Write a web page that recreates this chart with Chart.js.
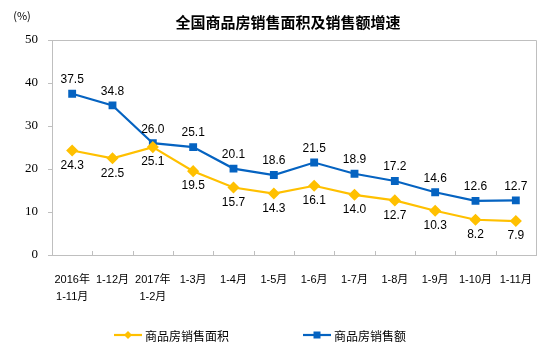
<!DOCTYPE html>
<html><head><meta charset="utf-8">
<script src="https://cdn.jsdelivr.net/npm/chart.js@4/dist/chart.umd.min.js"></script>
<style>html,body{margin:0;padding:0;background:#fff}#wrap{width:544px;height:351px;position:relative}</style>
</head><body><div id="wrap"><canvas id="c" width="544" height="351"></canvas></div>
<script>
const categories = [["2016年","1-11月"],"1-12月",["2017年","1-2月"],"1-3月","1-4月","1-5月","1-6月","1-7月","1-8月","1-9月","1-10月","1-11月"];
const areaGrowth = [24.3,22.5,25.1,19.5,15.7,14.3,16.1,14.0,12.7,10.3,8.2,7.9];
const salesGrowth = [37.5,34.8,26.0,25.1,20.1,18.6,21.5,18.9,17.2,14.6,12.6,12.7];
const yTicks = [0,10,20,30,40,50];
const seriesNames = ["商品房销售面积","商品房销售额"];
const titleText = "全国商品房销售面积及销售额增速";
const unitText = "(%)";

const FONT = '"Liberation Sans", Arial, "Noto Sans CJK SC", sans-serif';
const SERIF = '"Liberation Serif", "Times New Roman", serif';
const CJK = '"Noto Sans CJK SC", "Liberation Sans", sans-serif';
const YELLOW = '#FFC000';
const BLUE = '#0563C1';
const GRAY = '#BFBFBF';

const deco = {
  id: 'deco',
  afterDraw(chart) {
    const ctx = chart.ctx, a = chart.chartArea;
    ctx.save();
    ctx.strokeStyle = GRAY; ctx.lineWidth = 1;
    ctx.beginPath();
    ctx.moveTo(a.left, a.top + 0.5); ctx.lineTo(a.right + 0.5, a.top + 0.5); ctx.lineTo(a.right + 0.5, a.bottom);
    ctx.stroke();
    const xs = chart.scales.x;
    ctx.beginPath();
    for (let i = 1; i < categories.length; i++) {
      const px = Math.round((xs.getPixelForValue(i - 1) + xs.getPixelForValue(i)) / 2) + 0.5;
      ctx.moveTo(px, a.bottom); ctx.lineTo(px, a.bottom - 4);
    }
    ctx.stroke();
    ctx.fillStyle = '#000';
    ctx.font = '12px ' + FONT;
    ctx.textAlign = 'center'; ctx.textBaseline = 'middle';
    chart.data.datasets.forEach((ds, di) => {
      const meta = chart.getDatasetMeta(di);
      meta.data.forEach((pt, i) => {
        const dy = di === 1 ? -14 : 15;
        ctx.fillText(ds.data[i].toFixed(1), pt.x, pt.y + dy);
      });
    });
    ctx.font = 'bold 15px ' + CJK;
    ctx.fillText(titleText, 288, 22);
    ctx.font = '11px ' + CJK;
    ctx.fillText(unitText, 22, 16);
    const items = [{x:114, c:YELLOW, s:'diamond', t:seriesNames[0]}, {x:303, c:BLUE, s:'square', t:seriesNames[1]}];
    const ly = 335;
    items.forEach(it => {
      ctx.strokeStyle = it.c; ctx.lineWidth = 2.2; ctx.fillStyle = it.c;
      ctx.beginPath(); ctx.moveTo(it.x, ly); ctx.lineTo(it.x + 28, ly); ctx.stroke();
      const cx = it.x + 14;
      ctx.beginPath();
      if (it.s === 'diamond') { ctx.moveTo(cx, ly - 4); ctx.lineTo(cx + 4, ly); ctx.lineTo(cx, ly + 4); ctx.lineTo(cx - 4, ly); }
      else { ctx.rect(cx - 3.5, ly - 3.5, 7, 7); }
      ctx.fill();
      ctx.fillStyle = '#000'; ctx.font = '12px ' + CJK; ctx.textAlign = 'left';
      ctx.fillText(it.t, it.x + 31, ly + 1);
    });
    ctx.restore();
  }
};

new Chart(document.getElementById('c'), {
  type: 'line',
  data: {
    labels: categories,
    datasets: [
      { label: seriesNames[0], data: areaGrowth, borderColor: YELLOW, backgroundColor: YELLOW, borderWidth: 2.2,
        pointStyle: 'rectRot', pointRadius: 4.5, pointHoverRadius: 4.5, tension: 0 },
      { label: seriesNames[1], data: salesGrowth, borderColor: BLUE, backgroundColor: BLUE, borderWidth: 2.2,
        pointStyle: 'rect', pointRadius: 4, pointHoverRadius: 4, tension: 0 }
    ]
  },
  options: {
    responsive: false, animation: false, devicePixelRatio: 1,
    layout: { padding: { left: 0, top: 40, right: 8, bottom: 0 } },
    plugins: { legend: { display: false }, title: { display: false }, tooltip: { enabled: false } },
    scales: {
      x: {
        offset: true,
        grid: { display: false },
        border: { display: true, color: GRAY, width: 1 },
        ticks: { color: '#000', font: { size: 11, family: FONT, lineHeight: 1.5 }, padding: 9, maxRotation: 0, autoSkip: false },
        afterFit(s) { s.height = 96; }
      },
      y: {
        min: 0, max: 50,
        afterBuildTicks(s) { s.ticks = yTicks.map(v => ({ value: v })); },
        grid: { display: true, drawOnChartArea: false, drawTicks: true, tickLength: 4, color: GRAY },
        border: { display: true, color: GRAY, width: 1 },
        ticks: { color: '#000', font: { size: 13, family: SERIF }, padding: 10 },
        afterFit(s) { s.width = 52; }
      }
    }
  },
  plugins: [deco]
});
</script></body></html>
